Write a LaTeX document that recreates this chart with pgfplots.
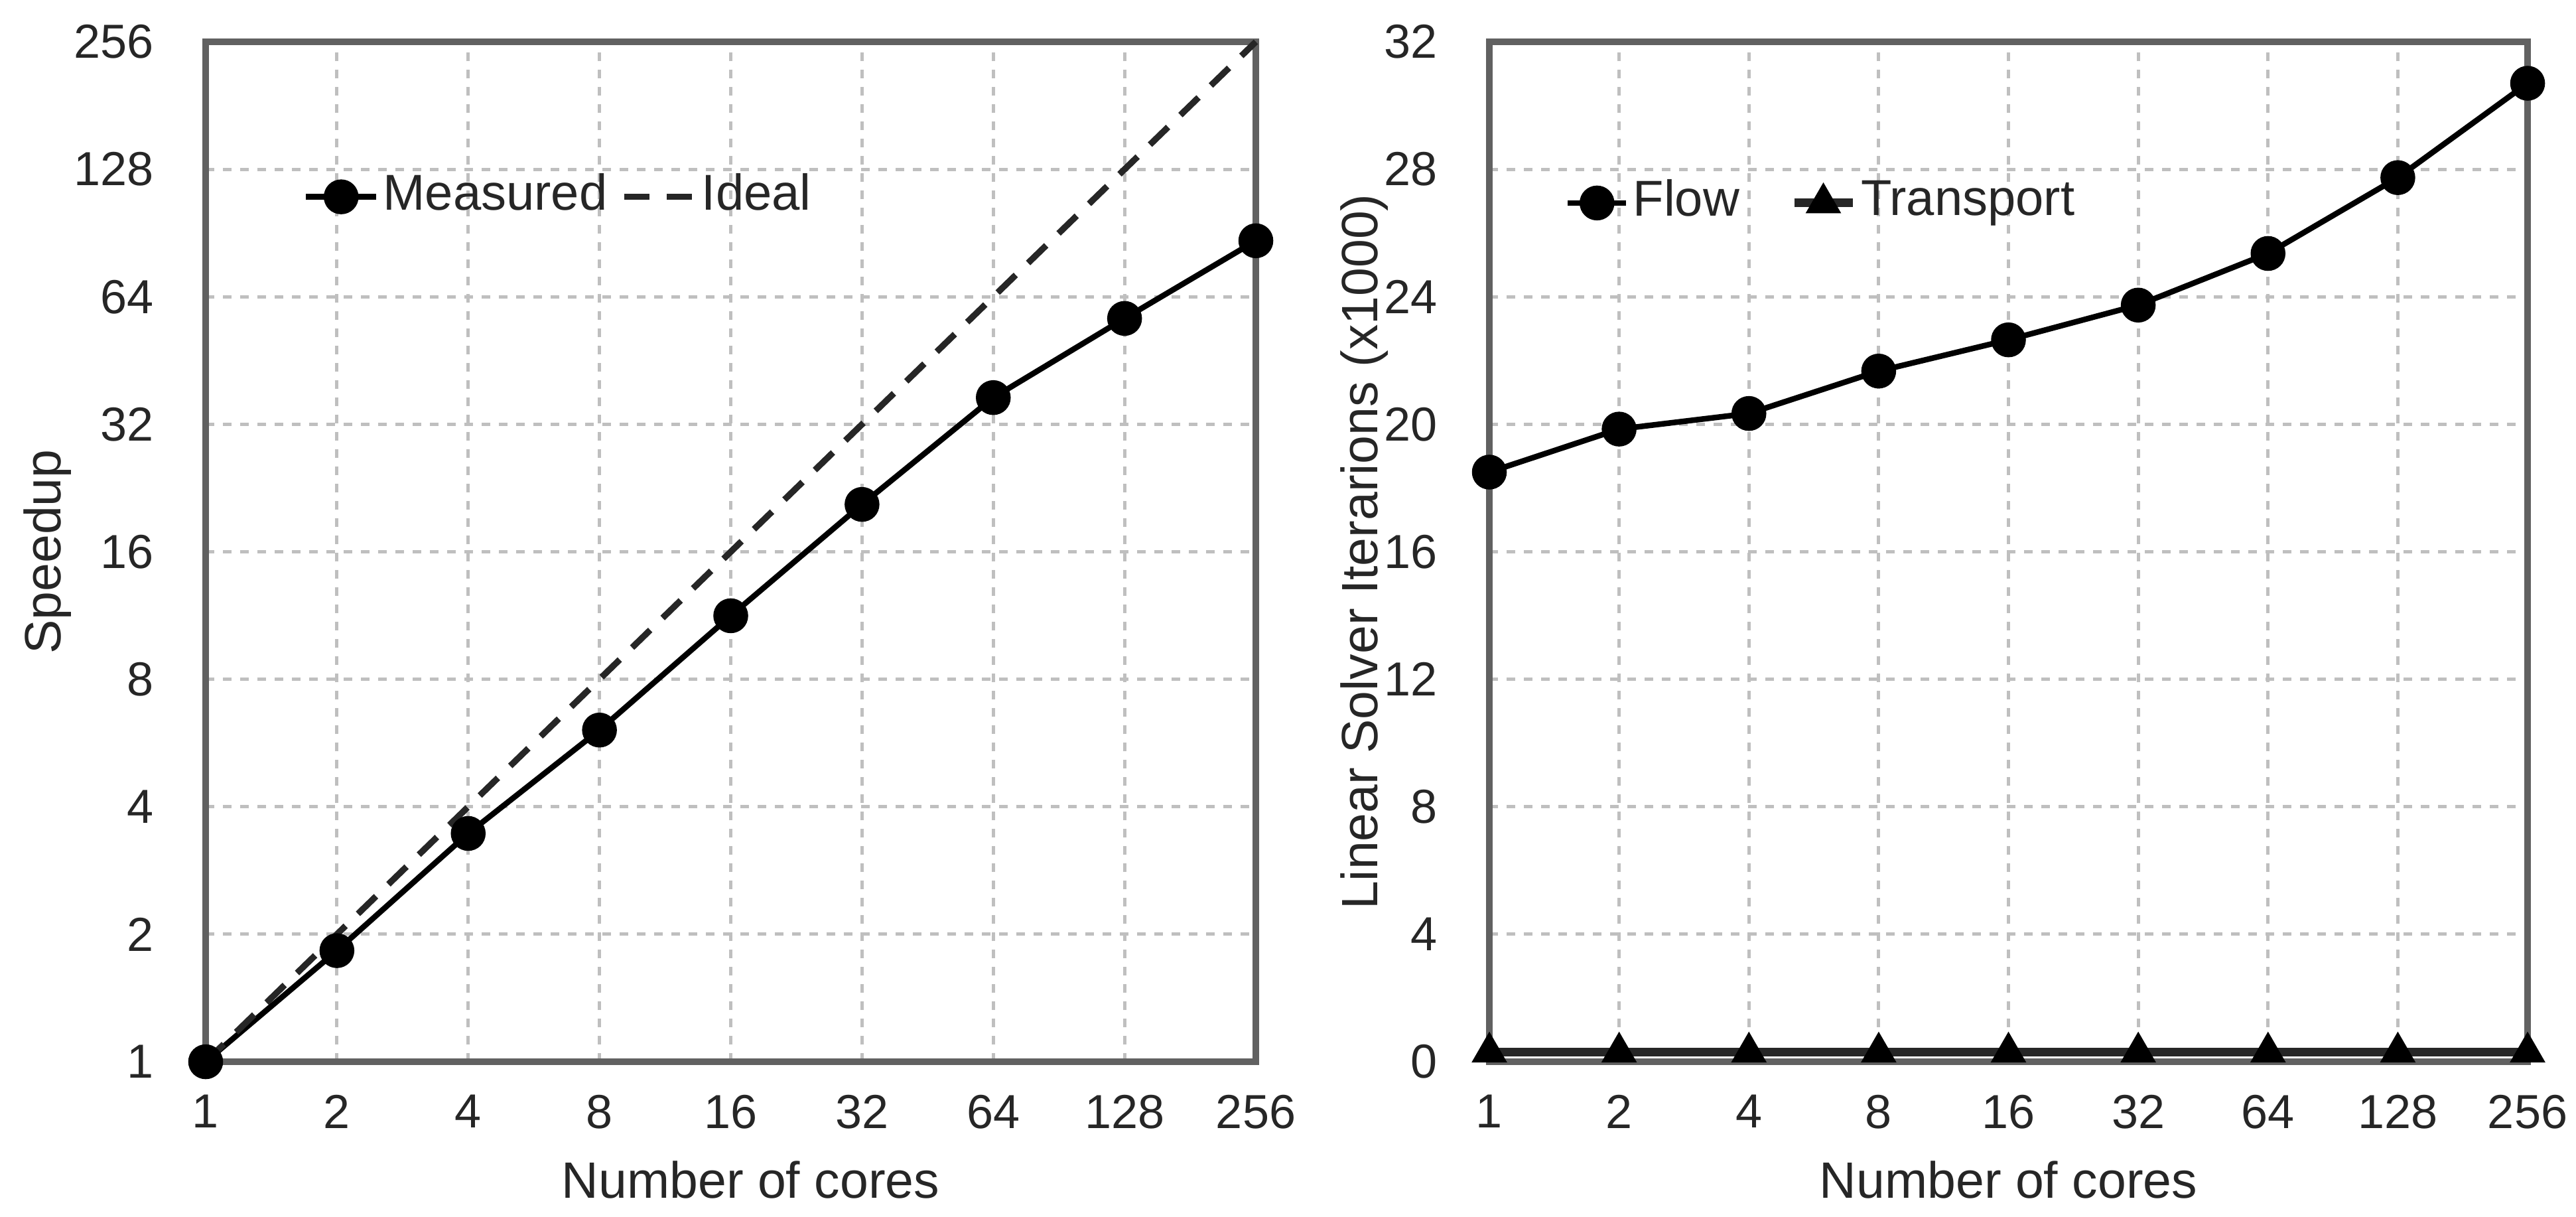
\documentclass[border=0pt]{standalone}
\usepackage{fontspec}
\setmainfont{Liberation Sans}
\usepackage{pgfplots}
\pgfplotsset{compat=1.18}
\begin{document}
\begin{tikzpicture}
\path[use as bounding box] (0,0) rectangle (388.3pt,183.3pt);
\pgfplotsset{
  every axis/.append style={
    scale only axis,
    anchor=south west,
    axis line style={line width=1pt, black!62},
    major grid style={dash pattern=on 1.3pt off 1.3pt, gray!50, line width=0.5pt},
    grid=major,
    major tick length=0pt,
    tick label style={font=\fontsize{7.2}{8}\selectfont, black!85},
    xticklabel style={yshift=-1.5pt},
    yticklabel style={xshift=-4.3pt},
    legend style={draw=none, fill=none, inner sep=0pt, font=\fontsize{7.6}{9}\selectfont, text=black!85, nodes={inner sep=0.6pt}},
    legend image code/.code={\draw[mark repeat=2,mark phase=2,#1] plot coordinates {(0pt,0pt) (5.3pt,0pt) (10.6pt,0pt)};},
    xmode=log, log basis x=2,
    xmin=1, xmax=256,
    xtick={1,2,4,8,16,32,64,128,256},
    xticklabels={1,2,4,8,16,32,64,128,256},
    xlabel={Number of cores},
    every axis x label/.style={at={(axis description cs:0.5,0)}, anchor=base, yshift=-20.5pt, font=\fontsize{7.7}{9}\selectfont, text=black!85},
    clip=false,
  }
}
\begin{axis}[
  at={(31.0pt,23.3pt)}, width=158.3pt, height=153.7pt,
  ymode=log, log basis y=2, ymin=1, ymax=256,
  ytick={1,2,4,8,16,32,64,128,256},
  yticklabels={1,2,4,8,16,32,64,128,256},
  ylabel={Speedup},
  every axis y label/.style={at={(axis description cs:-0.1503,0.5)}, rotate=90, anchor=center, font=\fontsize{7.7}{9}\selectfont, text=black!85},
  xlabel style={xshift=3pt},
  legend columns=2,
  legend style={at={(axis description cs:0.0916,0.848)}, anchor=west, /tikz/every even column/.append style={column sep=1.5pt}},
]
\addplot[black, line width=0.85pt, mark=*, mark size=2.2pt] coordinates {
(1,1) (2,1.83) (4,3.46) (8,6.07) (16,11.3) (32,20.7) (64,37.0) (128,56.9) (256,86.8)};
\addlegendentry{Measured}
\addplot[black!85, line width=0.95pt, dash pattern=on 3.8pt off 2.6pt] coordinates {
(1,1) (2,2) (4,4) (8,8) (16,16) (32,32) (64,64) (128,128) (256,256)};
\addlegendentry{Ideal}
\end{axis}
\begin{axis}[
  at={(224.5pt,23.3pt)}, width=156.5pt, height=153.7pt,
  ymin=0, ymax=32, ytick={0,4,...,32},
  yticklabels={0,4,8,12,16,20,24,28,32},
  ylabel={Linear Solver Iterarions (x1000)},
  every axis y label/.style={at={(axis description cs:-0.1201,0.5)}, rotate=90, anchor=center, font=\fontsize{7.7}{9}\selectfont, text=black!85},
  legend columns=2,
  legend style={at={(axis description cs:0.0716,0.842)}, anchor=west, /tikz/every even column/.append style={column sep=7pt}},
  legend image code/.code={\draw[mark repeat=2,mark phase=2,#1] plot coordinates {(0pt,0pt) (4.4pt,0pt) (8.8pt,0pt)};},
]
\addplot[black, line width=0.85pt, mark=*, mark size=2.2pt] coordinates {
(1,18.5) (2,19.85) (4,20.34) (8,21.67) (16,22.65) (32,23.74) (64,25.36) (128,27.74) (256,30.7)};
\addlegendentry{Flow}
\addplot[black!85, line width=1.3pt, mark=triangle*, mark size=1.8pt, mark options={black}] coordinates {
(1,0.3) (2,0.3) (4,0.3) (8,0.3) (16,0.3) (32,0.3) (64,0.3) (128,0.3) (256,0.3)};
\addlegendentry{Transport}
\end{axis}
\end{tikzpicture}
\end{document}
